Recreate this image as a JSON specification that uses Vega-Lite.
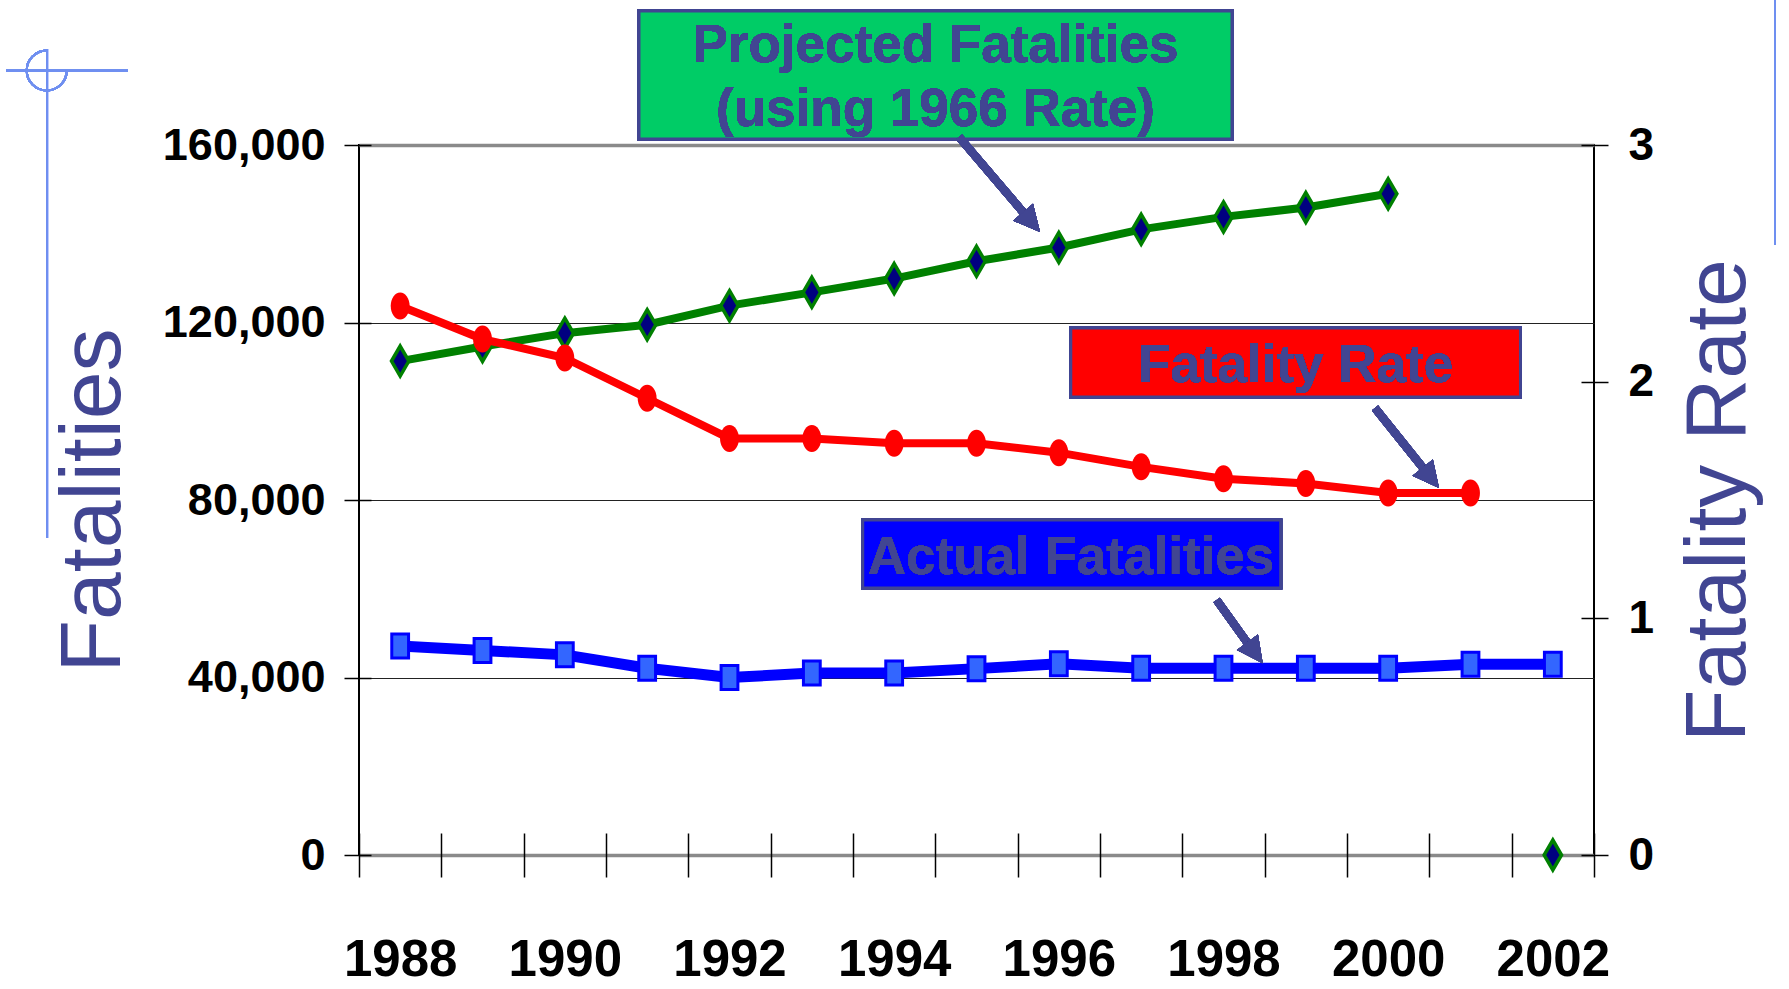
{
  "$schema": "https://vega.github.io/schema/vega-lite/v6.json",
  "width": 1235,
  "height": 710,
  "autosize": {"type": "none"},
  "padding": {"left": 359, "top": 145, "right": 195, "bottom": 134},
  "background": "white",
  "config": {
    "view": {"stroke": "black", "strokeWidth": 2},
    "font": "Liberation Sans"
  },
  "data": {
    "values": [
      {"year": 1988, "actual": 47100, "projected": 111300, "rate": 2.32},
      {"year": 1989, "actual": 46100, "projected": 114600, "rate": 2.18},
      {"year": 1990, "actual": 45100, "projected": 117600, "rate": 2.10},
      {"year": 1991, "actual": 42100, "projected": 119500, "rate": 1.93},
      {"year": 1992, "actual": 40000, "projected": 123800, "rate": 1.76},
      {"year": 1993, "actual": 41000, "projected": 126800, "rate": 1.76},
      {"year": 1994, "actual": 41000, "projected": 129900, "rate": 1.74},
      {"year": 1995, "actual": 42000, "projected": 133800, "rate": 1.74},
      {"year": 1996, "actual": 43100, "projected": 136900, "rate": 1.70},
      {"year": 1997, "actual": 42100, "projected": 141000, "rate": 1.64},
      {"year": 1998, "actual": 42100, "projected": 143800, "rate": 1.59},
      {"year": 1999, "actual": 42100, "projected": 145900, "rate": 1.57},
      {"year": 2000, "actual": 42100, "projected": 149000, "rate": 1.53},
      {"year": 2001, "actual": 43000, "projected": null, "rate": 1.53},
      {"year": 2002, "actual": 43000, "projected": 0, "rate": null}
    ]
  },
  "layer": [
    {
      "layer": [
        {
          "transform": [{"filter": "datum.projected != null && datum.year <= 2000"}],
          "mark": {"type": "line", "color": "#008000", "strokeWidth": 8},
          "encoding": {
            "x": {
              "field": "year", "type": "quantitative",
              "scale": {"domain": [1987.5, 2002.5], "nice": false, "zero": false},
              "axis": {
                "values": [1987.5, 1988, 1988.5, 1989, 1989.5, 1990, 1990.5, 1991, 1991.5, 1992, 1992.5, 1993, 1993.5, 1994, 1994.5, 1995, 1995.5, 1996, 1996.5, 1997, 1997.5, 1998, 1998.5, 1999, 1999.5, 2000, 2000.5, 2001, 2001.5, 2002, 2002.5],
                "labelExpr": "datum.value % 2 == 0 ? format(datum.value, 'd') : ''",
                "title": null,
                "offset": -22,
                "tickSize": 44,
                "tickWidth": 1.5,
                "tickColor": {"condition": {"test": "datum.value % 1 != 0", "value": "#000000"}, "value": "transparent"},
                "domain": false,
                "grid": false,
                "labelFont": "Liberation Sans",
                "labelFontWeight": "bold",
                "labelFontSize": 51,
                "labelColor": "black",
                "labelPadding": 58,
                "labelOverlap": false,
                "labelFlush": false,
                "labelBound": false
              }
            },
            "y": {
              "field": "projected", "type": "quantitative",
              "scale": {"domain": [0, 160000], "nice": false},
              "axis": {
                "values": [0, 40000, 80000, 120000, 160000],
                "labelExpr": "format(datum.value, ',')",
                "title": "Fatalities",
                "offset": -12,
                "tickSize": 27,
                "tickWidth": 1.5,
                "tickColor": "black",
                "domain": false,
                "grid": true,
                "gridColor": {"condition": {"test": "datum.value == 0 || datum.value == 160000", "value": "#8a8a8a"}, "value": "#222222"},
                "gridWidth": {"condition": {"test": "datum.value == 0 || datum.value == 160000", "value": 3.5}, "value": 1},
                "labelFont": "Liberation Sans",
                "labelFontWeight": "bold",
                "labelFontSize": 45,
                "labelColor": "black",
                "labelPadding": 19,
                "titleFont": "Liberation Sans",
                "titleFontSize": 86,
                "titleFontWeight": "normal",
                "titleColor": "#414592",
                "titlePadding": 34
              }
            }
          }
        },
        {
          "transform": [{"filter": "datum.projected != null"}],
          "mark": {"type": "point", "shape": "M0,-1L0.58,0L0,1L-0.58,0Z", "size": 900, "filled": true, "fill": "#000080", "stroke": "#008000", "strokeWidth": 3.5, "opacity": 1},
          "encoding": {
            "x": {"field": "year", "type": "quantitative"},
            "y": {"field": "projected", "type": "quantitative", "title": "Fatalities"}
          }
        },
        {
          "mark": {"type": "line", "color": "#0000FF", "strokeWidth": 11},
          "encoding": {
            "x": {"field": "year", "type": "quantitative"},
            "y": {"field": "actual", "type": "quantitative", "title": "Fatalities"}
          }
        },
        {
          "mark": {"type": "point", "shape": "M-0.7,-1L0.7,-1L0.7,1L-0.7,1Z", "size": 576, "filled": true, "fill": "#3366FF", "stroke": "#0000FF", "strokeWidth": 3, "opacity": 1},
          "encoding": {
            "x": {"field": "year", "type": "quantitative"},
            "y": {"field": "actual", "type": "quantitative", "title": "Fatalities"}
          }
        },
        {
          "mark": {"type": "rect", "fill": "#00CC66", "stroke": "#414592", "strokeWidth": 3},
          "encoding": {
            "x": {"datum": 1990.901, "type": "quantitative"},
            "x2": {"datum": 1998.103},
            "y": {"datum": 161352, "type": "quantitative"},
            "y2": {"datum": 190197}
          }
        },
        {
          "mark": {"type": "text", "font": "Liberation Sans", "fontWeight": "bold", "fontSize": 53, "color": "#414592", "align": "center", "baseline": "alphabetic"},
          "encoding": {
            "x": {"datum": 1994.502, "type": "quantitative"},
            "y": {"datum": 178704, "type": "quantitative"},
            "text": {"value": "Projected Fatalities"}
          }
        },
        {
          "mark": {"type": "text", "font": "Liberation Sans", "fontWeight": "bold", "fontSize": 53, "color": "#414592", "align": "center", "baseline": "alphabetic"},
          "encoding": {
            "x": {"datum": 1994.502, "type": "quantitative"},
            "y": {"datum": 164281, "type": "quantitative"},
            "text": {"value": "(using 1966 Rate)"}
          }
        },
        {
          "mark": {"type": "rect", "fill": "#FF0000", "stroke": "#414592", "strokeWidth": 3},
          "encoding": {
            "x": {"datum": 1996.145, "type": "quantitative"},
            "x2": {"datum": 2001.607},
            "y": {"datum": 103211, "type": "quantitative"},
            "y2": {"datum": 118760}
          }
        },
        {
          "mark": {"type": "text", "font": "Liberation Sans", "fontWeight": "bold", "fontSize": 53, "color": "#414592", "align": "center", "baseline": "alphabetic"},
          "encoding": {
            "x": {"datum": 1998.876, "type": "quantitative"},
            "y": {"datum": 106659, "type": "quantitative"},
            "text": {"value": "Fatality Rate"}
          }
        },
        {
          "mark": {"type": "rect", "fill": "#0000FF", "stroke": "#414592", "strokeWidth": 3},
          "encoding": {
            "x": {"datum": 1993.618, "type": "quantitative"},
            "x2": {"datum": 1998.695},
            "y": {"datum": 60169, "type": "quantitative"},
            "y2": {"datum": 75493}
          }
        },
        {
          "mark": {"type": "text", "font": "Liberation Sans", "fontWeight": "bold", "fontSize": 53, "color": "#414592", "align": "center", "baseline": "alphabetic"},
          "encoding": {
            "x": {"datum": 1996.148, "type": "quantitative"},
            "y": {"datum": 63324, "type": "quantitative"},
            "text": {"value": "Actual Fatalities"}
          }
        },
        {
          "mark": {"type": "rule", "color": "#414592", "strokeWidth": 8},
          "encoding": {
            "x": {"datum": 1994.788, "type": "quantitative"},
            "x2": {"datum": 1995.669},
            "y": {"datum": 161803, "type": "quantitative"},
            "y2": {"datum": 142626}
          }
        },
        {
          "mark": {"type": "point", "shape": "M0,0L-1,-2L1,-2Z", "size": 676, "filled": true, "color": "#414592", "opacity": 1, "angle": -40.5},
          "encoding": {
            "x": {"datum": 1995.771, "type": "quantitative"},
            "y": {"datum": 140394, "type": "quantitative"}
          }
        },
        {
          "mark": {"type": "rule", "color": "#414592", "strokeWidth": 8},
          "encoding": {
            "x": {"datum": 1999.840, "type": "quantitative"},
            "x2": {"datum": 2000.519},
            "y": {"datum": 100732, "type": "quantitative"},
            "y2": {"datum": 85003}
          }
        },
        {
          "mark": {"type": "point", "shape": "M0,0L-1,-2L1,-2Z", "size": 676, "filled": true, "color": "#414592", "opacity": 1, "angle": -38.7},
          "encoding": {
            "x": {"datum": 2000.617, "type": "quantitative"},
            "y": {"datum": 82704, "type": "quantitative"}
          }
        },
        {
          "mark": {"type": "rule", "color": "#414592", "strokeWidth": 8},
          "encoding": {
            "x": {"datum": 1997.917, "type": "quantitative"},
            "x2": {"datum": 1998.379},
            "y": {"datum": 57465, "type": "quantitative"},
            "y2": {"datum": 45521}
          }
        },
        {
          "mark": {"type": "point", "shape": "M0,0L-1,-2L1,-2Z", "size": 676, "filled": true, "color": "#414592", "opacity": 1, "angle": -36},
          "encoding": {
            "x": {"datum": 1998.476, "type": "quantitative"},
            "y": {"datum": 43200, "type": "quantitative"}
          }
        },
        {
          "mark": {"type": "rule", "color": "#6F8FF0", "strokeWidth": 2},
          "encoding": {
            "x": {"datum": 1983.711, "type": "quantitative"},
            "y": {"datum": 181634, "type": "quantitative"},
            "y2": {"datum": 71437}
          }
        },
        {
          "mark": {"type": "rule", "color": "#6F8FF0", "strokeWidth": 2},
          "encoding": {
            "x": {"datum": 1983.213, "type": "quantitative"},
            "x2": {"datum": 1984.694},
            "y": {"datum": 176744, "type": "quantitative"}
          }
        },
        {
          "mark": {"type": "point", "shape": "M0,-1A1,1,0,1,0,1,0", "size": 1600, "filled": false, "stroke": "#6F8FF0", "strokeWidth": 2, "opacity": 1},
          "encoding": {
            "x": {"datum": 1983.707, "type": "quantitative"},
            "y": {"datum": 176789, "type": "quantitative"}
          }
        },
        {
          "mark": {"type": "rule", "color": "#6F8FF0", "strokeWidth": 2},
          "encoding": {
            "x": {"datum": 2004.698, "type": "quantitative"},
            "y": {"datum": 192676, "type": "quantitative"},
            "y2": {"datum": 137465}
          }
        }
      ]
    },
    {
      "layer": [
        {
          "transform": [{"filter": "datum.rate != null"}],
          "mark": {"type": "line", "color": "#FF0000", "strokeWidth": 8},
          "encoding": {
            "x": {"field": "year", "type": "quantitative"},
            "y": {
              "field": "rate", "type": "quantitative",
              "scale": {"domain": [0, 3], "nice": false},
              "axis": {
                "orient": "right",
                "values": [0, 1, 2, 3],
                "labelExpr": "format(datum.value, 'd')",
                "title": "Fatality Rate",
                "offset": -13,
                "tickSize": 27,
                "tickWidth": 1.5,
                "tickColor": "black",
                "domain": false,
                "grid": false,
                "labelFont": "Liberation Sans",
                "labelFontWeight": "bold",
                "labelFontSize": 46,
                "labelColor": "black",
                "labelPadding": 20,
                "titleFont": "Liberation Sans",
                "titleFontSize": 86,
                "titleFontWeight": "normal",
                "titleColor": "#414592",
                "titleAngle": 270,
                "titleBaseline": "top",
                "titlePadding": 23
              }
            }
          }
        },
        {
          "transform": [{"filter": "datum.rate != null"}],
          "mark": {"type": "point", "shape": "M0,-1A0.7,1,0,1,1,0,1A0.7,1,0,1,1,0,-1Z", "size": 729, "filled": true, "color": "#FF0000", "opacity": 1},
          "encoding": {
            "x": {"field": "year", "type": "quantitative"},
            "y": {"field": "rate", "type": "quantitative", "title": "Fatality Rate"}
          }
        }
      ]
    }
  ],
  "resolve": {"scale": {"y": "independent"}}
}
